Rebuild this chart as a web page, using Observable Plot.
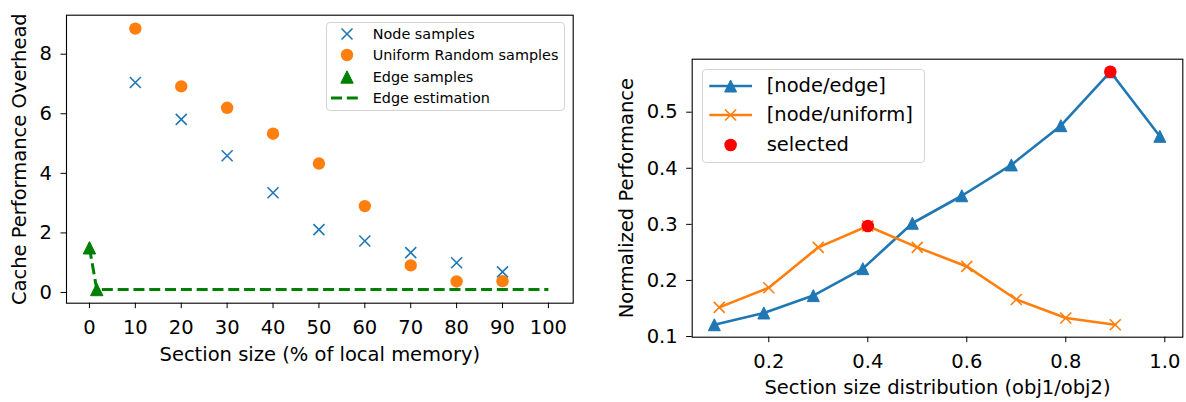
<!DOCTYPE html>
<html><head><meta charset="utf-8">
<script src="https://cdn.jsdelivr.net/npm/d3@7"></script>
<script src="https://cdn.jsdelivr.net/npm/@observablehq/plot@0.6"></script>
<style>
body{margin:0;background:#fff;}
#wrap{position:relative;width:1186px;height:402px;overflow:hidden;font-family:"DejaVu Sans",sans-serif;background:#fff;}
.panel{position:absolute;top:0;}
.legend{position:absolute;box-sizing:border-box;border:1px solid #d4d4d4;border-radius:4px;background:rgba(255,255,255,0.8);}
.legend svg{position:absolute;overflow:visible;}
.legend span{position:absolute;white-space:nowrap;transform:translateY(-50%);line-height:1;color:#000;}
</style></head><body><div id="wrap"></div><script>
// ---- Left chart data ----
const sectionSize = [10, 20, 30, 40, 50, 60, 70, 80, 90];
const nodeSamples = [7.05, 5.81, 4.59, 3.35, 2.11, 1.73, 1.34, 1.0, 0.69];
const uniformSamples = [8.86, 6.92, 6.2, 5.33, 4.33, 2.9, 0.91, 0.37, 0.38];
const edgeSampleX = [0, 1.6];
const edgeSampleY = [1.5, 0.1];
const edgeEstX = [0, 1.6, 100];
const edgeEstY = [1.5, 0.1, 0.1];
const leftXTicks = [0, 10, 20, 30, 40, 50, 60, 70, 80, 90, 100];
const leftYTicks = [0, 2, 4, 6, 8];
const leftXLabel = "Section size (% of local memory)";
const leftYLabel = "Cache Performance Overhead";
const leftLegend = ["Node samples", "Uniform Random samples", "Edge samples", "Edge estimation"];

// ---- Right chart data ----
const ratioEdge = [0.09, 0.19, 0.29, 0.39, 0.49, 0.59, 0.69, 0.79, 0.89, 0.99];
const nodeEdge = [0.121, 0.142, 0.173, 0.221, 0.302, 0.351, 0.406, 0.476, 0.572, 0.457];
const ratioUniform = [0.1, 0.2, 0.3, 0.4, 0.5, 0.6, 0.7, 0.8, 0.9];
const nodeUniform = [0.152, 0.187, 0.259, 0.297, 0.259, 0.225, 0.166, 0.133, 0.121];
const selectedX = [0.4, 0.89];
const selectedY = [0.297, 0.572];
const rightXTicks = [0.2, 0.4, 0.6, 0.8, 1.0];
const rightYTicks = [0.1, 0.2, 0.3, 0.4, 0.5];
const rightXLabel = "Section size distribution (obj1/obj2)";
const rightYLabel = "Normalized Performance";
const rightLegend = ["[node/edge]", "[node/uniform]", "selected"];

const blue = "#1f77b4", orange = "#ff7f0e", green = "#008000", red = "#ff0000";
const FS = 19.5;

const cross = {draw(c, s){const r = Math.sqrt(s/Math.PI); c.moveTo(-r,-r); c.lineTo(r,r); c.moveTo(-r,r); c.lineTo(r,-r);}};
const tri = {draw(c, s){const r = Math.sqrt(s/Math.PI); c.moveTo(0,-r); c.lineTo(r,r); c.lineTo(-r,r); c.closePath();}};

const zip = (xs, ys) => xs.map((x, i) => ({x, y: ys[i]}));
const style = {fontFamily: "DejaVu Sans", fontSize: FS + "px", color: "black", background: "transparent", overflow: "visible"};

const left = Plot.plot({
  width: 586, height: 402,
  marginLeft: 66, marginRight: 13.3, marginTop: 14.7, marginBottom: 99.3,
  style,
  x: {domain: [-5, 105.4]},
  y: {domain: [-0.36, 9.31]},
  marks: [
    Plot.axisX({ticks: leftXTicks, tickSize: 5.5, tickPadding: 11, label: null, fontSize: FS, tickFormat: d3.format("d")}),
    Plot.axisY({ticks: leftYTicks, tickSize: 5.5, tickPadding: 9, label: null, fontSize: FS, tickFormat: d3.format("d")}),
    Plot.dot(zip(sectionSize, nodeSamples), {x: "x", y: "y", symbol: cross, r: 5.5, stroke: blue, strokeWidth: 1.6, fill: "none"}),
    Plot.dot(zip(sectionSize, uniformSamples), {x: "x", y: "y", symbol: "circle", r: 6.2, fill: orange, stroke: "none"}),
    Plot.dot(zip(edgeSampleX, edgeSampleY), {x: "x", y: "y", symbol: tri, r: 6.2, fill: green, stroke: green, strokeWidth: 1}),
    Plot.line(zip(edgeEstX, edgeEstY), {x: "x", y: "y", stroke: green, strokeWidth: 3, strokeDasharray: "11,4.8", strokeLinecap: "butt"}),
    Plot.frame({stroke: "black", strokeWidth: 1.1}),
    Plot.text([leftYLabel], {text: d => d, frameAnchor: "left", textAnchor: "middle", rotate: -90, dx: -47, fontSize: FS, fill: "black"}),
    Plot.text([leftXLabel], {text: d => d, frameAnchor: "bottom", textAnchor: "middle", dy: 51.5, lineAnchor: "middle", fontSize: FS, fill: "black"})
  ]
});

const right = Plot.plot({
  width: 586, height: 402,
  marginLeft: 91.7, marginRight: 3.7, marginTop: 58.7, marginBottom: 65.3,
  style,
  x: {domain: [0.0453, 1.0364]},
  y: {domain: [0.0988, 0.5945]},
  marks: [
    Plot.axisX({ticks: rightXTicks, tickSize: 5.5, tickPadding: 11, label: null, fontSize: FS, tickFormat: d3.format(".1f")}),
    Plot.axisY({ticks: rightYTicks, tickSize: 5.5, tickPadding: 9, label: null, fontSize: FS, tickFormat: d3.format(".1f")}),
    Plot.line(zip(ratioEdge, nodeEdge), {x: "x", y: "y", stroke: blue, strokeWidth: 2.6}),
    Plot.dot(zip(ratioEdge, nodeEdge), {x: "x", y: "y", symbol: tri, r: 6, fill: blue, stroke: blue, strokeWidth: 1}),
    Plot.line(zip(ratioUniform, nodeUniform), {x: "x", y: "y", stroke: orange, strokeWidth: 2.6}),
    Plot.dot(zip(ratioUniform, nodeUniform), {x: "x", y: "y", symbol: cross, r: 5.5, stroke: orange, strokeWidth: 1.6, fill: "none"}),
    Plot.dot(zip(selectedX, selectedY), {x: "x", y: "y", symbol: "circle", r: 6.3, fill: red, stroke: "none"}),
    Plot.frame({stroke: "black", strokeWidth: 1.1}),
    Plot.text([rightYLabel], {text: d => d, frameAnchor: "left", textAnchor: "middle", rotate: -90, dx: -65, fontSize: FS, fill: "black"}),
    Plot.text([rightXLabel], {text: d => d, frameAnchor: "bottom", textAnchor: "middle", dy: 50.5, lineAnchor: "middle", fontSize: FS, fill: "black"})
  ]
});

const wrap = document.getElementById("wrap");
left.classList.add("panel"); left.style.left = "0px";
right.classList.add("panel"); right.style.left = "600px";
wrap.appendChild(left);
wrap.appendChild(right);

function legend(box, rows) {
  const d = document.createElement("div");
  d.className = "legend";
  Object.assign(d.style, {left: box.x + "px", top: box.y + "px", width: box.w + "px", height: box.h + "px"});
  rows.forEach(r => {
    const s = document.createElementNS("http://www.w3.org/2000/svg", "svg");
    s.setAttribute("width", 60); s.setAttribute("height", 30);
    s.style.left = "0px"; s.style.top = (r.y - 15) + "px";
    s.innerHTML = r.svg;
    d.appendChild(s);
    const t = document.createElement("span");
    t.textContent = r.label;
    Object.assign(t.style, {left: box.tx + "px", top: r.y + "px", fontSize: box.fs + "px"});
    d.appendChild(t);
  });
  wrap.appendChild(d);
}
const triPath = (cx, cy, r, c) => `<path d="M${cx},${cy-r}L${cx+r},${cy+r}L${cx-r},${cy+r}Z" fill="${c}" stroke="${c}" stroke-width="1"/>`;
const crossPath = (cx, cy, r, c) => `<path d="M${cx-r},${cy-r}L${cx+r},${cy+r}M${cx-r},${cy+r}L${cx+r},${cy-r}" fill="none" stroke="${c}" stroke-width="1.6"/>`;

legend({x: 325.7, y: 22.3, w: 239.6, h: 89, tx: 46, fs: 14.4}, [
  {y: 10.7, label: leftLegend[0], svg: crossPath(20, 15, 5.5, blue)},
  {y: 32, label: leftLegend[1], svg: `<circle cx="20" cy="15" r="6.2" fill="${orange}"/>`},
  {y: 53.7, label: leftLegend[2], svg: triPath(20, 15, 6.2, green)},
  {y: 74.7, label: leftLegend[3], svg: `<line x1="4" x2="33.3" y1="15" y2="15" stroke="${green}" stroke-width="3" stroke-dasharray="11,4.8"/>`}
]);
legend({x: 701.7, y: 69, w: 223.3, h: 94.3, tx: 64, fs: FS}, [
  {y: 16, label: rightLegend[0], svg: `<line x1="6.3" x2="49" y1="15" y2="15" stroke="${blue}" stroke-width="2.6"/>` + triPath(27.6, 15, 6, blue)},
  {y: 44.5, label: rightLegend[1], svg: `<line x1="6.3" x2="49" y1="15" y2="15" stroke="${orange}" stroke-width="2.6"/>` + crossPath(27.6, 15, 5.5, orange)},
  {y: 74.5, label: rightLegend[2], svg: `<circle cx="27.6" cy="15" r="6.3" fill="${red}"/>`}
]);
</script></body></html>
